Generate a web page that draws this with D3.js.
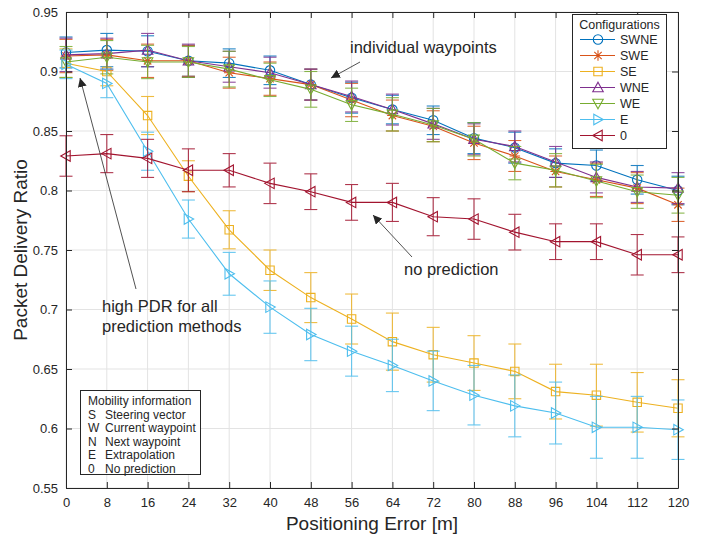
<!DOCTYPE html>
<html>
<head>
<meta charset="utf-8">
<script src="https://cdn.jsdelivr.net/npm/d3@7"></script>
<style>
  body { margin: 0; background: #fff; }
  svg { font-family: "Liberation Sans", Arial, sans-serif; }
</style>
</head>
<body>
<svg id="chart" width="713" height="535"></svg>
<script>
// Dados
const errors = [0, 8, 16, 24, 32, 40, 48, 56, 64, 72, 80, 88, 96, 104, 112, 120];
const yTicks = [0.55, 0.6, 0.65, 0.7, 0.75, 0.8, 0.85, 0.9, 0.95];
const configNames = ["SWNE", "SWE", "SE", "WNE", "WE", "E", "0"];

const pdrSWNE = [0.916, 0.918, 0.917, 0.909, 0.907, 0.901, 0.889, 0.878, 0.868, 0.859, 0.844, 0.836, 0.823, 0.821, 0.809, 0.800];
const pdrSWE  = [0.913, 0.914, 0.909, 0.909, 0.899, 0.894, 0.889, 0.876, 0.863, 0.854, 0.840, 0.829, 0.816, 0.809, 0.802, 0.788];
const pdrSE   = [0.907, 0.900, 0.863, 0.812, 0.767, 0.733, 0.710, 0.692, 0.673, 0.662, 0.655, 0.648, 0.631, 0.628, 0.622, 0.617];
const pdrWNE  = [0.914, 0.915, 0.918, 0.909, 0.904, 0.899, 0.889, 0.879, 0.868, 0.856, 0.843, 0.837, 0.824, 0.811, 0.803, 0.802];
const pdrWE   = [0.908, 0.912, 0.908, 0.908, 0.902, 0.893, 0.885, 0.872, 0.864, 0.855, 0.843, 0.823, 0.817, 0.808, 0.799, 0.796];
const pdrE    = [0.906, 0.890, 0.833, 0.776, 0.730, 0.702, 0.679, 0.665, 0.653, 0.640, 0.628, 0.619, 0.613, 0.601, 0.601, 0.599];
const pdr0    = [0.829, 0.831, 0.827, 0.817, 0.817, 0.806, 0.799, 0.790, 0.790, 0.778, 0.776, 0.765, 0.757, 0.757, 0.746, 0.746];

// desvios (meia altura da barra de erro)
const errSWNE = [0.013, 0.014, 0.013, 0.013, 0.012, 0.012, 0.013, 0.013, 0.012, 0.012, 0.013, 0.013, 0.012, 0.013, 0.012, 0.012];
const errSWE  = [0.014, 0.013, 0.014, 0.013, 0.013, 0.014, 0.013, 0.014, 0.013, 0.013, 0.014, 0.013, 0.013, 0.014, 0.013, 0.014];
const errSE   = [0.012, 0.012, 0.016, 0.013, 0.016, 0.017, 0.021, 0.021, 0.024, 0.023, 0.023, 0.023, 0.023, 0.026, 0.025, 0.024];
const errWNE  = [0.014, 0.013, 0.014, 0.014, 0.013, 0.013, 0.013, 0.013, 0.013, 0.013, 0.013, 0.013, 0.013, 0.013, 0.013, 0.013];
const errWE   = [0.013, 0.014, 0.014, 0.013, 0.015, 0.014, 0.015, 0.014, 0.014, 0.014, 0.014, 0.014, 0.014, 0.014, 0.014, 0.015];
const errE    = [0.012, 0.012, 0.016, 0.016, 0.018, 0.022, 0.022, 0.021, 0.022, 0.025, 0.025, 0.026, 0.026, 0.026, 0.026, 0.025];
const err0    = [0.017, 0.016, 0.016, 0.018, 0.014, 0.017, 0.015, 0.015, 0.016, 0.016, 0.017, 0.015, 0.015, 0.015, 0.017, 0.015];

const mobilityKeys = ["S", "W", "N", "E", "0"];
const mobilityDesc = ["Steering vector", "Current waypoint", "Next waypoint", "Extrapolation", "No prediction"];

const colors = ["#0072BD", "#D95319", "#EDB120", "#7E2F8E", "#77AC30", "#4DBEEE", "#A2142F"];
const markers = ["circle", "star", "square", "up", "down", "right", "left"];
const allValues = [pdrSWNE, pdrSWE, pdrSE, pdrWNE, pdrWE, pdrE, pdr0];
const allErrors = [errSWNE, errSWE, errSE, errWNE, errWE, errE, err0];

const series = configNames.map((name, i) => ({
    name, color: colors[i], marker: markers[i],
    points: errors.map((x, j) => ({ x, y: allValues[i][j], e: allErrors[i][j] }))
}));

const margin = {top: 12, right: 35, bottom: 47, left: 66};
const width = 713 - margin.left - margin.right;
const height = 535 - margin.top - margin.bottom;

const svg = d3.select("#chart");
const g = svg.append("g").attr("transform", `translate(${margin.left},${margin.top})`);

const xScale = d3.scaleLinear().domain([0, 120]).range([0, width]);
const yScale = d3.scaleLinear().domain([0.55, 0.95]).range([height, 0]);

// Grade
g.append("g").selectAll("line").data(errors).join("line")
    .attr("x1", d => xScale(d)).attr("x2", d => xScale(d))
    .attr("y1", 0).attr("y2", height)
    .attr("stroke", "#e3e3e3").attr("stroke-width", 1);
g.append("g").selectAll("line").data(yTicks).join("line")
    .attr("y1", d => yScale(d)).attr("y2", d => yScale(d))
    .attr("x1", 0).attr("x2", width)
    .attr("stroke", "#e3e3e3").attr("stroke-width", 1);

// Símbolos
function markerPath(type, s) {
    const h = s / 2;
    switch (type) {
        case "circle": return d3.symbol(d3.symbolCircle, Math.PI * h * h * 0.8)();
        case "square": return `M${-h*0.8},${-h*0.8}H${h*0.8}V${h*0.8}H${-h*0.8}Z`;
        case "up": return `M0,${-h}L${h},${h*0.8}L${-h},${h*0.8}Z`;
        case "down": return `M0,${h}L${h},${-h*0.8}L${-h},${-h*0.8}Z`;
        case "right": return `M${h},0L${-h*0.8},${h}L${-h*0.8},${-h}Z`;
        case "left": return `M${-h},0L${h*0.8},${h}L${h*0.8},${-h}Z`;
        case "star": {
            const r = h, d = r * 0.707;
            return `M${-r},0H${r}M0,${-r}V${r}M${-d},${-d}L${d},${d}M${-d},${d}L${d},${-d}`;
        }
    }
}

const line = d3.line().x(d => xScale(d.x)).y(d => yScale(d.y));
const capW = 6.5;

series.forEach(s => {
    const sg = g.append("g");
    sg.append("path").datum(s.points)
        .attr("d", line).attr("fill", "none")
        .attr("stroke", s.color).attr("stroke-width", 1.1);
    const eb = sg.append("g").attr("stroke", s.color).attr("stroke-width", 1.1).attr("opacity", 0.85);
    eb.selectAll(".v").data(s.points).join("line")
        .attr("x1", d => xScale(d.x)).attr("x2", d => xScale(d.x))
        .attr("y1", d => yScale(d.y - d.e)).attr("y2", d => yScale(d.y + d.e));
    eb.selectAll(".t").data(s.points).join("line")
        .attr("x1", d => xScale(d.x) - capW).attr("x2", d => xScale(d.x) + capW)
        .attr("y1", d => yScale(d.y + d.e)).attr("y2", d => yScale(d.y + d.e));
    eb.selectAll(".b").data(s.points).join("line")
        .attr("x1", d => xScale(d.x) - capW).attr("x2", d => xScale(d.x) + capW)
        .attr("y1", d => yScale(d.y - d.e)).attr("y2", d => yScale(d.y - d.e));
    sg.selectAll(".m").data(s.points).join("path")
        .attr("transform", d => `translate(${xScale(d.x)},${yScale(d.y)})`)
        .attr("d", markerPath(s.marker, 10.5))
        .attr("fill", "none").attr("stroke", s.color).attr("stroke-width", 1.1);
});

// Eixos (caixa com ticks internos)
const axisColor = "#262626";
g.append("g").attr("transform", `translate(0,${height})`)
    .call(d3.axisBottom(xScale).tickValues(errors).tickSizeInner(-6).tickSizeOuter(0).tickPadding(10));
g.append("g")
    .call(d3.axisLeft(yScale).tickValues(yTicks).tickFormat(d => d3.format("")(+d.toFixed(2))).tickSizeInner(-6).tickSizeOuter(0).tickPadding(8));
g.append("g").call(d3.axisTop(xScale).tickValues(errors).tickSizeInner(-6).tickSizeOuter(0).tickFormat(""));
g.append("g").attr("transform", `translate(${width},0)`)
    .call(d3.axisRight(yScale).tickValues(yTicks).tickSizeInner(-6).tickSizeOuter(0).tickFormat(""));
g.selectAll(".domain, .tick line").attr("stroke", axisColor);
g.selectAll(".tick text").attr("fill", "#262626").style("font-size", "13px");
g.selectAll(".domain").attr("stroke-width", 1);

// Títulos dos eixos
svg.append("text")
    .attr("x", margin.left + width / 2).attr("y", 530)
    .attr("text-anchor", "middle").attr("fill", "#262626")
    .style("font-size", "19px").text("Positioning Error [m]");
svg.append("text")
    .attr("transform", `translate(27,${margin.top + height / 2}) rotate(-90)`)
    .attr("text-anchor", "middle").attr("fill", "#262626")
    .style("font-size", "19px").text("Packet Delivery Ratio");

// Anotações
svg.append("defs").append("marker")
    .attr("id", "arrow").attr("viewBox", "0 0 10 10")
    .attr("refX", 10).attr("refY", 5)
    .attr("markerWidth", 9).attr("markerHeight", 9)
    .attr("markerUnits", "userSpaceOnUse")
    .attr("orient", "auto")
    .append("path").attr("d", "M0,0L10,5L0,10Z").attr("fill", "#262626");

function arrow(x1, y1, x2, y2) {
    svg.append("line")
        .attr("x1", x1).attr("y1", y1).attr("x2", x2).attr("y2", y2)
        .attr("stroke", "#262626").attr("stroke-width", 0.8)
        .attr("marker-end", "url(#arrow)");
}
function note(x, y, lines) {
    const t = svg.append("text").attr("x", x).attr("y", y)
        .attr("fill", "#262626").style("font-size", "16.5px");
    lines.forEach((l, i) => t.append("tspan").attr("x", x).attr("dy", i ? 19.5 : 0).text(l));
}
arrow(360, 62, 331, 78);
note(350, 53, ["individual waypoints"]);
arrow(412, 257, 373, 215);
note(404, 275, ["no prediction"]);
arrow(136, 289, 80, 78);
note(102, 312, ["high PDR for all", "prediction methods"]);

// Legenda
const leg = svg.append("g");
leg.append("rect").attr("x", 572.5).attr("y", 14.5).attr("width", 94).attr("height", 134)
    .attr("fill", "#fff").attr("stroke", "#262626").attr("stroke-width", 1);
leg.append("text").attr("x", 619.5).attr("y", 28.5).attr("text-anchor", "middle")
    .attr("fill", "#262626").style("font-size", "12.5px").text("Configurations");
series.forEach((s, i) => {
    const y = 39.5 + i * 16;
    leg.append("line").attr("x1", 580).attr("x2", 615).attr("y1", y).attr("y2", y)
        .attr("stroke", s.color).attr("stroke-width", 1.1);
    leg.append("path").attr("transform", `translate(598,${y})`)
        .attr("d", markerPath(s.marker, 10.5)).attr("fill", "none")
        .attr("stroke", s.color).attr("stroke-width", 1.1);
    leg.append("text").attr("x", 620).attr("y", y + 4.5)
        .attr("fill", "#262626").style("font-size", "12.5px").text(s.name);
});

// Caixa de informação de mobilidade
const info = svg.append("g");
info.append("rect").attr("x", 80.5).attr("y", 390.5).attr("width", 120).attr("height", 84)
    .attr("fill", "#fff").attr("stroke", "#262626").attr("stroke-width", 1);
info.append("text").attr("x", 88).attr("y", 404.5).attr("fill", "#262626")
    .style("font-size", "12px").text("Mobility information");
mobilityKeys.forEach((k, i) => {
    const y = 418.5 + i * 13.5;
    info.append("text").attr("x", 88).attr("y", y).attr("fill", "#262626")
        .style("font-size", "12px").text(k);
    info.append("text").attr("x", 105).attr("y", y).attr("fill", "#262626")
        .style("font-size", "12px").text(mobilityDesc[i]);
});
</script>
</body>
</html>
